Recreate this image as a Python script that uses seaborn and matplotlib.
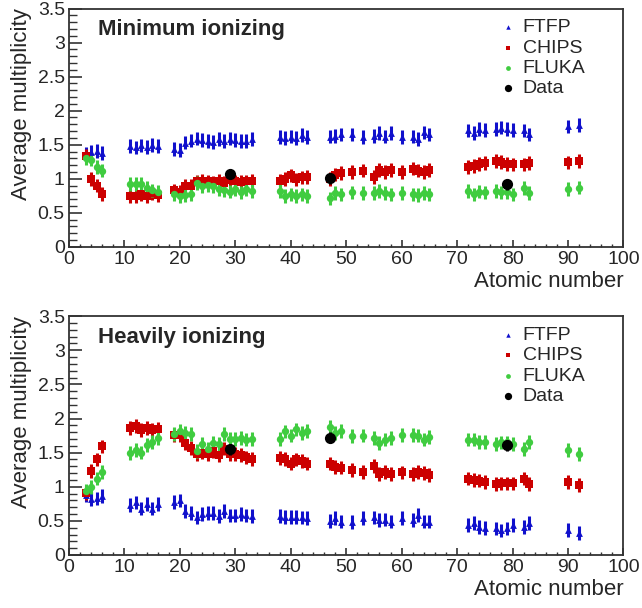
import numpy as np
import pandas as pd
import seaborn as sns
import matplotlib.pyplot as plt
from matplotlib.ticker import MultipleLocator

# -------------------------
# data
# -------------------------
atomic_number = [3, 4, 5, 6,
                 11, 12, 13, 14, 15, 16,
                 19, 20, 21, 22, 23, 24, 25, 26, 27, 28, 29, 30, 31, 32, 33,
                 38, 39, 40, 41, 42, 43,
                 47, 48, 49, 51, 53, 55, 56, 57, 58, 60, 62, 63, 64, 65,
                 72, 73, 74, 75, 77, 78, 79, 80, 82, 83,
                 90, 92]
data_z = [29, 47, 79]

# minimum ionizing
min_ftfp = [1.37, 1.40, 1.41, 1.38,
            1.48, 1.46, 1.49, 1.47, 1.50, 1.48,
            1.44, 1.42, 1.53, 1.56, 1.59, 1.57, 1.55, 1.54, 1.58, 1.55, 1.59, 1.57, 1.55, 1.55, 1.58,
            1.61, 1.60, 1.62, 1.60, 1.64, 1.61,
            1.62, 1.63, 1.65, 1.65, 1.61, 1.63, 1.67, 1.62, 1.67, 1.61, 1.62, 1.58, 1.68, 1.65,
            1.71, 1.67, 1.73, 1.72, 1.73, 1.75, 1.73, 1.72, 1.71, 1.65,
            1.77, 1.79]
min_chips = [1.34, 1.00, 0.90, 0.78,
             0.74, 0.74, 0.77, 0.74, 0.79, 0.76,
             0.83, 0.81, 0.90, 0.90, 0.96, 0.97, 0.96, 0.94, 0.97, 0.94, 0.98, 0.96, 0.95, 0.96, 0.97,
             0.97, 1.00, 1.05, 0.99, 1.02, 1.03,
             1.00, 1.06, 1.08, 1.10, 1.12, 1.03, 1.13, 1.10, 1.13, 1.10, 1.15, 1.12, 1.10, 1.13,
             1.17, 1.19, 1.22, 1.23, 1.26, 1.25, 1.22, 1.21, 1.21, 1.23,
             1.24, 1.26]
min_fluka = [1.30, 1.28, 1.17, 1.12,
             0.92, 0.92, 0.92, 0.86, 0.83, 0.81,
             0.77, 0.74, 0.76, 0.77, 0.94, 0.89, 0.91, 0.89, 0.85, 0.83, 0.81, 0.85, 0.80, 0.85, 0.82,
             0.82, 0.75, 0.77, 0.75, 0.77, 0.75,
             0.71, 0.79, 0.77, 0.80, 0.79, 0.79, 0.82, 0.79, 0.77, 0.79, 0.77, 0.76, 0.79, 0.77,
             0.82, 0.77, 0.81, 0.80, 0.82, 0.80, 0.80, 0.77, 0.86, 0.79,
             0.85, 0.87]
min_data = [1.07, 1.01, 0.92]

# heavily ionizing
heavy_ftfp = [0.88, 0.82, 0.83, 0.86,
              0.73, 0.77, 0.68, 0.75, 0.68, 0.75,
              0.78, 0.80, 0.64, 0.62, 0.55, 0.60, 0.62, 0.62, 0.57, 0.64, 0.58, 0.58, 0.60, 0.58, 0.57,
              0.57, 0.56, 0.56, 0.56, 0.55, 0.54,
              0.50, 0.54, 0.49, 0.48, 0.54, 0.55, 0.51, 0.52, 0.49, 0.54, 0.51, 0.59, 0.49, 0.49,
              0.44, 0.47, 0.41, 0.40, 0.39, 0.36, 0.39, 0.44, 0.41, 0.47,
              0.37, 0.32]
heavy_chips = [0.91, 1.23, 1.40, 1.59,
               1.86, 1.89, 1.83, 1.86, 1.83, 1.85,
               1.76, 1.76, 1.64, 1.57, 1.48, 1.50, 1.48, 1.52, 1.47, 1.56, 1.48, 1.48, 1.47, 1.43, 1.41,
               1.42, 1.41, 1.34, 1.40, 1.38, 1.34,
               1.34, 1.29, 1.28, 1.25, 1.22, 1.30, 1.19, 1.22, 1.19, 1.21, 1.19, 1.22, 1.20, 1.17,
               1.12, 1.10, 1.09, 1.07, 1.04, 1.05, 1.05, 1.05, 1.12, 1.04,
               1.07, 1.03]
heavy_fluka = [0.94, 1.00, 1.12, 1.22,
               1.49, 1.54, 1.50, 1.61, 1.66, 1.71,
               1.77, 1.82, 1.79, 1.77, 1.52, 1.63, 1.55, 1.64, 1.63, 1.77, 1.70, 1.70, 1.71, 1.69, 1.70,
               1.70, 1.81, 1.75, 1.84, 1.79, 1.82,
               1.88, 1.79, 1.82, 1.74, 1.75, 1.71, 1.64, 1.69, 1.71, 1.76, 1.76, 1.75, 1.69, 1.73,
               1.69, 1.69, 1.66, 1.66, 1.63, 1.65, 1.65, 1.63, 1.55, 1.66,
               1.54, 1.48]
heavy_data = [1.55, 1.72, 1.61]

mc_err = 0.10
data_err = 0.08

# -------------------------
# style
# -------------------------
sns.set_style("ticks")
plt.rcParams['font.family'] = ['Liberation Sans', 'DejaVu Sans']

models = [
    ('FTFP', '#1010cc', '^', 24),
    ('CHIPS', '#cc0000', 's', 26),
    ('FLUKA', '#40cc40', 'o', 28),
]

fig = plt.figure(figsize=(6.42, 6.08), dpi=100)
ax_top = fig.add_axes([0.1075, 0.594, 0.8635, 0.392])
ax_bot = fig.add_axes([0.1075, 0.0872, 0.8635, 0.3928])

panels = [
    (ax_top, 'Minimum ionizing', [min_ftfp, min_chips, min_fluka], min_data),
    (ax_bot, 'Heavily ionizing', [heavy_ftfp, heavy_chips, heavy_fluka], heavy_data),
]

for ax, title, series, dvals in panels:
    for (name, color, marker, size), vals in zip(models, series):
        df = pd.DataFrame({'z': atomic_number, 'mult': vals})
        ax.errorbar(df['z'], df['mult'], yerr=mc_err, fmt='none',
                    ecolor=color, elinewidth=2.2, capsize=0, zorder=2)
        sns.scatterplot(data=df, x='z', y='mult', marker=marker, color=color,
                        s=size, linewidth=0, ax=ax, zorder=3, label=name)
    ddf = pd.DataFrame({'z': data_z, 'mult': dvals})
    ax.errorbar(ddf['z'], ddf['mult'], yerr=data_err, fmt='none',
                ecolor='black', elinewidth=2.2, capsize=0, zorder=4)
    sns.scatterplot(data=ddf, x='z', y='mult', marker='o', color='black',
                    s=65, linewidth=0, ax=ax, zorder=5, label='Data')

    ax.set_xlim(0, 100)
    ax.set_ylim(0, 3.5)
    ax.xaxis.set_major_locator(MultipleLocator(10))
    ax.xaxis.set_minor_locator(MultipleLocator(2))
    ax.yaxis.set_major_locator(MultipleLocator(0.5))
    ax.yaxis.set_minor_locator(MultipleLocator(0.1))
    ax.set_yticks(np.arange(0, 3.51, 0.5))
    ax.set_yticklabels(['0', '0.5', '1', '1.5', '2', '2.5', '3', '3.5'])
    ax.tick_params(axis='y', which='major', direction='in', length=9.5, width=1.2,
                   labelsize=14, pad=3, color='#333333')
    ax.tick_params(axis='y', which='minor', direction='in', length=5.5, width=1.0,
                   color='#333333')
    ax.tick_params(axis='x', which='major', direction='in', length=5, width=1.2,
                   labelsize=14, pad=3, color='#333333')
    ax.tick_params(axis='x', which='minor', direction='in', length=2.5, width=1.0,
                   color='#333333')
    for sp in ax.spines.values():
        sp.set_linewidth(1.3)
        sp.set_color('#333333')

    ax.set_xlabel('Atomic number', fontsize=16, loc='right', labelpad=2)
    ax.set_ylabel('Average multiplicity', fontsize=16, loc='top', labelpad=4)
    ax.text(0.052, 0.888, title, transform=ax.transAxes, fontsize=16,
            fontweight='bold', va='baseline', ha='left')

    leg = ax.legend(loc='upper left', bbox_to_anchor=(0.778, 0.957), frameon=False,
                    fontsize=14, markerscale=0.65, handlelength=0.8,
                    handletextpad=0.35, labelspacing=0.14, borderpad=0,
                    borderaxespad=0)

fig.savefig('out.png', dpi=100)
